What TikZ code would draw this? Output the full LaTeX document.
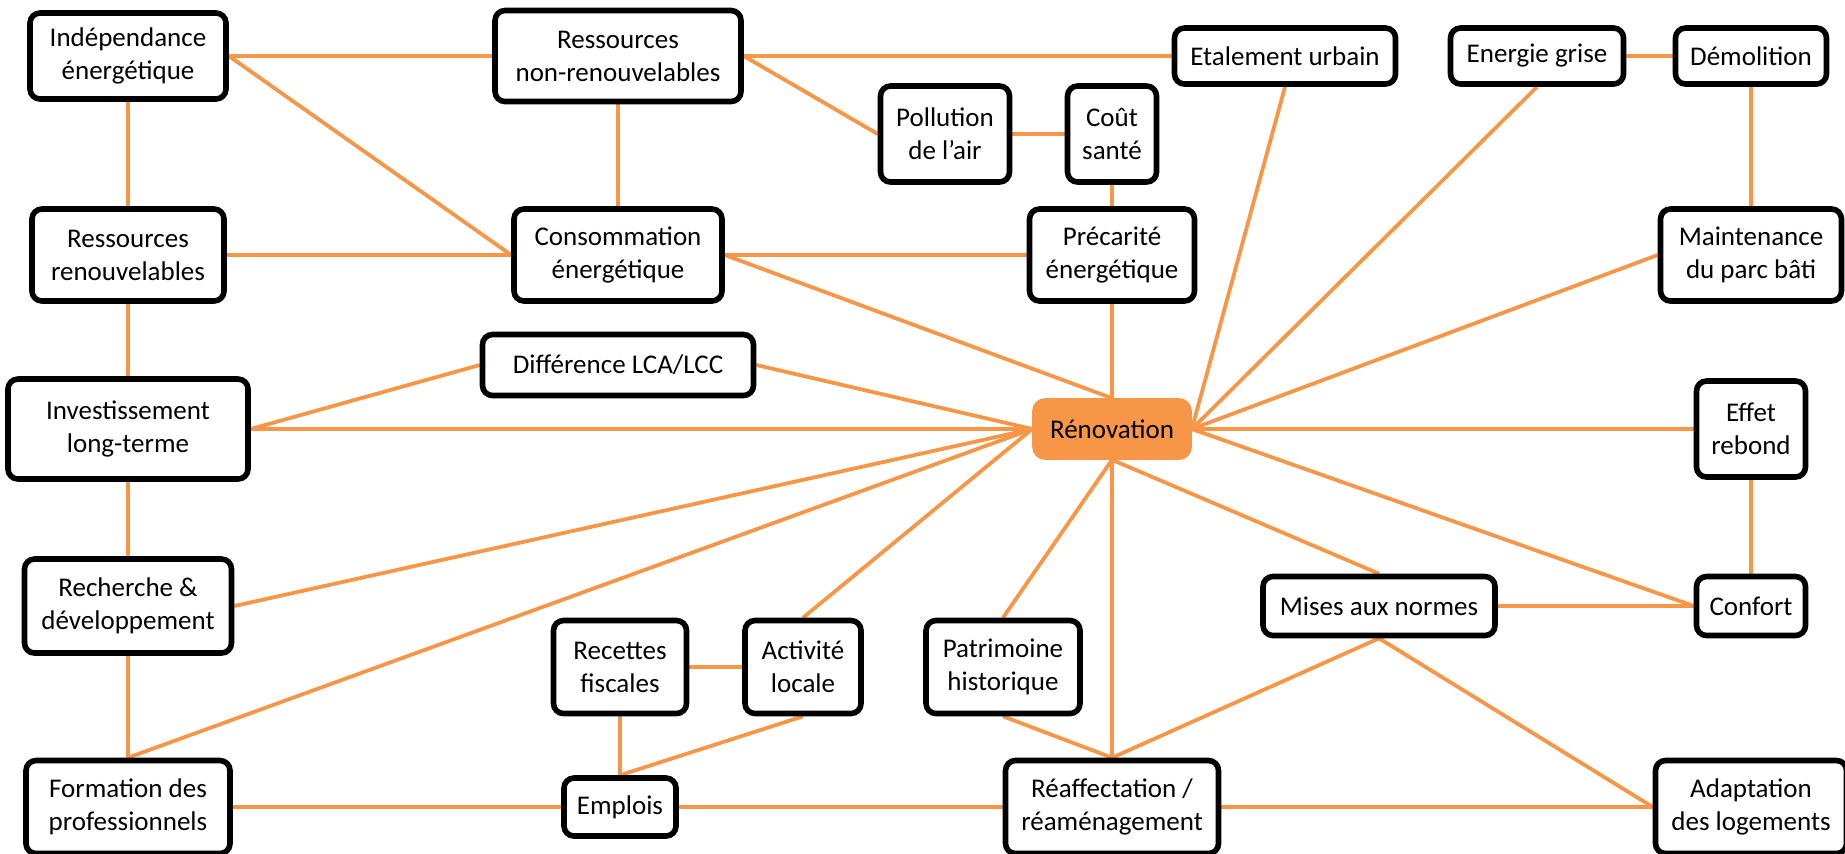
\documentclass[tikz,border=0pt]{standalone}
\usepackage{fontspec}
\setmainfont{Carlito}
\usetikzlibrary{backgrounds}
\definecolor{renoorange}{HTML}{F79646}
\begin{document}
\begin{tikzpicture}[
  x=0.5pt, y=-0.5pt,
  box/.style={draw=black, line width=2.8pt, rounded corners=5pt, fill=white, align=center, inner sep=0pt, font=\fontsize{13.5}{16.5}\selectfont},
  hub/.style={box, draw=renoorange, fill=renoorange},
  link/.style={draw=renoorange, line width=1.9pt}
]
\useasboundingbox (0,0) rectangle (1845,853);
\node[box, minimum width=98pt, minimum height=43pt] (ind) at (128,56) {Indépendance\\énergétique};
\node[box, minimum width=123pt, minimum height=45.5pt] (rnr) at (618,56) {Ressources\\non-renouvelables};
\node[box, minimum width=110.5pt, minimum height=28pt] (eta) at (1285,56) {Etalement urbain};
\node[box, minimum width=86.5pt, minimum height=28pt] (eg) at (1537,56) {Energie grise};
\node[box, minimum width=75.5pt, minimum height=28pt] (dem) at (1751,56) {Démolition};
\node[box, minimum width=64.5pt, minimum height=48pt] (pol) at (945,134) {Pollution\\de l’air};
\node[box, minimum width=44.5pt, minimum height=48pt] (cout) at (1112,134) {Coût\\santé};
\node[box, minimum width=96pt, minimum height=46pt] (rr) at (128,255) {Ressources\\renouvelables};
\node[box, minimum width=104pt, minimum height=46pt] (cons) at (618,255) {Consommation\\énergétique};
\node[box, minimum width=82.5pt, minimum height=46pt] (prec) at (1112,255) {Précarité\\énergétique};
\node[box, minimum width=90.5pt, minimum height=46pt] (maint) at (1751,255) {Maintenance\\du parc bâti};
\node[box, minimum width=135.5pt, minimum height=30.5pt] (diff) at (618,365) {Différence LCA/LCC};
\node[box, minimum width=120pt, minimum height=50pt] (inv) at (128,429) {Investissement\\long-terme};
\node[hub, minimum width=77pt, minimum height=28pt] (reno) at (1112,429) {Rénovation};
\node[box, minimum width=54.5pt, minimum height=48pt] (effet) at (1751,429) {Effet\\rebond};
\node[box, minimum width=103.5pt, minimum height=47pt] (rech) at (128,606) {Recherche \&\\développement};
\node[box, minimum width=116pt, minimum height=29.5pt] (mises) at (1379,606) {Mises aux normes};
\node[box, minimum width=54.5pt, minimum height=29.5pt] (conf) at (1751,606) {Confort};
\node[box, minimum width=66.5pt, minimum height=46.5pt] (rec) at (620,667) {Recettes\\fiscales};
\node[box, minimum width=58pt, minimum height=46.5pt] (act) at (803,667) {Activité\\locale};
\node[box, minimum width=77pt, minimum height=46.5pt] (pat) at (1003,667) {Patrimoine\\historique};
\node[box, minimum width=102pt, minimum height=46.5pt] (form) at (128,807) {Formation des\\professionnels};
\node[box, minimum width=56pt, minimum height=29pt] (emp) at (620,807) {Emplois};
\node[box, minimum width=106.5pt, minimum height=46.5pt] (reaf) at (1112,807) {Réaffectation /\\réaménagement};
\node[box, minimum width=95.5pt, minimum height=46.5pt] (adap) at (1751,807) {Adaptation\\des logements};
\begin{scope}[on background layer]
\path[link] (ind.east) -- (rnr.west);
\path[link] (ind.east) -- (cons.west);
\path[link] (ind.south) -- (rr.north);
\path[link] (rnr.south) -- (cons.north);
\path[link] (rnr.east) -- (eta.west);
\path[link] (rnr.east) -- (pol.west);
\path[link] (pol.east) -- (cout.west);
\path[link] (cout.south) -- (prec.north);
\path[link] (rr.east) -- (cons.west);
\path[link] (cons.east) -- (prec.west);
\path[link] (cons.east) -- (reno.north);
\path[link] (prec.south) -- (reno.north);
\path[link] (rr.south) -- (inv.north);
\path[link] (inv.east) -- (diff.west);
\path[link] (diff.east) -- (reno.west);
\path[link] (inv.east) -- (reno.west);
\path[link] (inv.south) -- (rech.north);
\path[link] (rech.east) -- (reno.west);
\path[link] (rech.south) -- (form.north);
\path[link] (form.north) -- (reno.west);
\path[link] (form.east) -- (emp.west);
\path[link] (emp.north) -- (rec.south);
\path[link] (emp.north) -- (act.south);
\path[link] (rec.east) -- (act.west);
\path[link] (act.north) -- (reno.west);
\path[link] (pat.north) -- (reno.south);
\path[link] (pat.south) -- (reaf.north);
\path[link] (reno.south) -- (reaf.north);
\path[link] (emp.east) -- (reaf.west);
\path[link] (reaf.north) -- (mises.south);
\path[link] (reaf.east) -- (adap.west);
\path[link] (mises.south) -- (adap.west);
\path[link] (reno.south) -- (mises.north);
\path[link] (reno.east) -- (conf.west);
\path[link] (mises.east) -- (conf.west);
\path[link] (conf.north) -- (effet.south);
\path[link] (reno.east) -- (effet.west);
\path[link] (reno.east) -- (maint.west);
\path[link] (maint.north) -- (dem.south);
\path[link] (eg.east) -- (dem.west);
\path[link] (eg.south) -- (reno.east);
\path[link] (eta.south) -- (reno.east);
\end{scope}
\end{tikzpicture}
\end{document}
